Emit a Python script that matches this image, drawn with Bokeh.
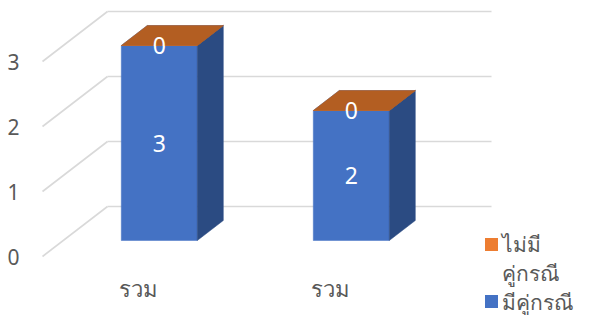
from bokeh.plotting import figure
from bokeh.models import Range1d
from bokeh.core.properties import value
from bokeh.embed import file_html
from bokeh.resources import INLINE

# ---- data ----
categories = ["รวม", "รวม"]
series_names = ["มีคู่กรณี", "ไม่มีคู่กรณี"]
with_party = [3, 2]
without_party = [0, 0]
y_ticks = [0, 1, 2, 3]

series = [
    (series_names[0], with_party, "#4472C4", "#2B4B82", "#4472C4"),
    (series_names[1], without_party, "#ED7D31", "#A5541B", "#B35E22"),
]

# ---- layout (pixels / value units) ----
W, H = 578, 315
UNIT = 65.0            # px per value unit
Y0 = 256.0             # y of value 0 on front plane
FX0, FX1 = 42.0, 426.0 # front plane x extent
DX, DY = 65.0, 50.0 / UNIT   # full depth offset
T0 = 0.32              # bar front depth fraction
BW = 76.0              # bar width
BDX, BDY = 26.0, 20.0 / UNIT  # bar depth
TEXT = "#595959"
FONT = "Noto Sans"

def py(pix_y):
    return (Y0 - pix_y) / UNIT

p = figure(width=W, height=H, output_backend="svg", toolbar_location=None,
           x_range=Range1d(0, W), y_range=Range1d(py(H), py(0)),
           min_border=0)
p.axis.visible = False
p.grid.visible = False
p.outline_line_color = None
p.background_fill_color = "white"

# gridlines: back wall + side wall
for v in y_ticks:
    p.line([FX0 + DX, FX1 + DX], [v + DY, v + DY], line_color="#D9D9D9", line_width=1.6)
    p.line([FX0, FX0 + DX], [v, v + DY], line_color="#D9D9D9", line_width=1.6)

p.text(x=[13] * len(y_ticks), y=y_ticks, text=[str(t) for t in y_ticks],
       text_align="center", text_baseline="middle", text_color=TEXT,
       text_font=value(FONT), text_font_size="21px")

n = len(categories)
step = (FX1 - FX0) / n
centers = [FX0 + step * (i + 0.5) for i in range(n)]

base = [0.0] * n
lab_x, lab_y, lab_t = [], [], []
for name, vals, front, side, top in series:
    fxs, fys, sxs, sys_, txs, tys = [], [], [], [], [], []
    for i in range(n):
        x0 = centers[i] + DX * T0 - BW / 2
        x1 = x0 + BW
        y0 = base[i] + DY * T0
        y1 = y0 + vals[i]
        fxs.append([x0, x1, x1, x0]); fys.append([y0, y0, y1, y1])
        sxs.append([x1, x1 + BDX, x1 + BDX, x1]); sys_.append([y0, y0 + BDY, y1 + BDY, y1])
        txs.append([x0, x1, x1 + BDX, x0 + BDX]); tys.append([y1, y1, y1 + BDY, y1 + BDY])
        lab_x.append((x0 + x1) / 2); lab_y.append(y0 + vals[i] / 2); lab_t.append(str(vals[i]))
        base[i] += vals[i]
    p.patches(xs=fxs, ys=fys, fill_color=front, line_color=front, line_width=0.5)
    p.patches(xs=sxs, ys=sys_, fill_color=side, line_color=side, line_width=0.5)
    p.patches(xs=txs, ys=tys, fill_color=top, line_color=top, line_width=0.5)

p.text(x=lab_x, y=lab_y, text=lab_t, text_align="center", text_baseline="middle",
       text_color="white", text_font=value(FONT), text_font_size="23px")

# category labels
p.text(x=centers, y=[py(287)] * n, text=categories, text_align="center",
       text_baseline="middle", text_color=TEXT, text_font=value(FONT),
       text_font_size="22px")

# legend (reverse order: top series first)
leg_sq_y = [py(244), py(301)]
leg_cols = [series[1][2], series[0][2]]
p.rect(x=[491, 491], y=leg_sq_y, width=13, height=13 / UNIT, fill_color=leg_cols,
       line_color=None)
p.text(x=[501, 501, 501], y=[py(243), py(272), py(301)],
       text=["ไม่มี", "คู่กรณี", series_names[0]], text_align="left",
       text_baseline="middle", text_color=TEXT, text_font=value(FONT),
       text_font_size="21px")

open("out.html", "w").write(file_html(p, INLINE))
